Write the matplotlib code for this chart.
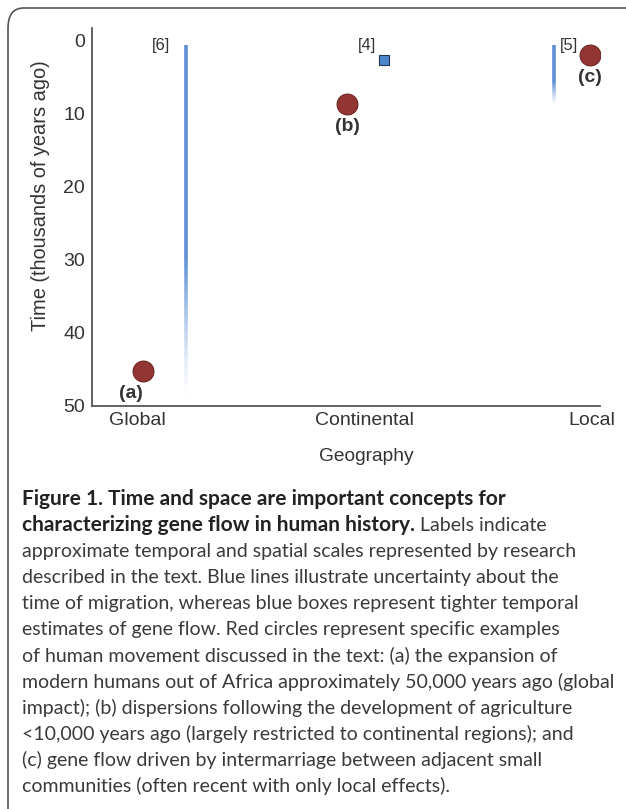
import matplotlib
matplotlib.use("Agg")
import matplotlib.pyplot as plt
import numpy as np
from matplotlib.collections import LineCollection
from matplotlib.patches import FancyBboxPatch

# ---- data ----
categories = ["Global", "Continental", "Local"]
y_ticks = [0, 10, 20, 30, 40, 50]

# uncertainty lines (x position in category units, start, end in kya)
line_x = [0.216, 1.833]
line_start = [0.7, 0.7]
line_end = [49.0, 9.0]
line_refs = ["[6]", "[5]"]

# tighter estimate boxes
box_x = [1.084]
box_y = [2.7]
box_refs = ["[4]"]

# specific examples
circle_x = [0.026, 0.925, 1.99]
circle_y = [45.2, 8.7, 2.0]
circle_labels = ["(a)", "(b)", "(c)"]

caption_bold1 = "Figure 1. Time and space are important concepts for"
caption_bold2 = "characterizing gene flow in human history."
caption_rest2 = " Labels indicate"
caption_lines = [
    "approximate temporal and spatial scales represented by research",
    "described in the text. Blue lines illustrate uncertainty about the",
    "time of migration, whereas blue boxes represent tighter temporal",
    "estimates of gene flow. Red circles represent specific examples",
    "of human movement discussed in the text: (a) the expansion of",
    "modern humans out of Africa approximately 50,000 years ago (global",
    "impact); (b) dispersions following the development of agriculture",
    "<10,000 years ago (largely restricted to continental regions); and",
    "(c) gene flow driven by intermarriage between adjacent small",
    "communities (often recent with only local effects).",
]

W, H = 626, 809
fig = plt.figure(figsize=(W / 100, H / 100), dpi=100)
fig.patch.set_facecolor("white")
renderer = fig.canvas.get_renderer()

def fx(px):
    return px / W

def fy(py):
    return 1 - py / H

def fit_size(text, target_px, family, weight="normal"):
    p = fig.text(0, 0, text, fontsize=12, family=family, fontweight=weight)
    w = p.get_window_extent(renderer).width
    p.remove()
    return 12 * target_px / w

# border
border = FancyBboxPatch((fx(8), fy(840)), fx(660) - fx(8), fy(8) - fy(840),
                        boxstyle="round,pad=0,rounding_size=0.025",
                        transform=fig.transFigure, facecolor="none",
                        edgecolor="#555555", linewidth=1.2, clip_on=False)
fig.patches.append(border)

plot_font = "Liberation Sans"
txt = "#333333"

ax = fig.add_axes([fx(92), fy(406), fx(600) - fx(92), fy(28) - fy(406)])
ax.set_xlim(-0.198, 2.035)
ax.set_ylim(50, -1.64)
for s in ["top", "right"]:
    ax.spines[s].set_visible(False)
for s in ["left", "bottom"]:
    ax.spines[s].set_color("#555555")
    ax.spines[s].set_linewidth(1.3)
ax.set_yticks(y_ticks)
ax.set_yticklabels([str(v) for v in y_ticks], fontsize=14, family=plot_font, color=txt)
ax.set_xticks(range(len(categories)))
ax.set_xticklabels(categories, fontsize=14, family=plot_font, color=txt)
ax.tick_params(axis="both", length=0)
ax.tick_params(axis="y", pad=5)
ax.tick_params(axis="x", pad=4)

xl_size = fit_size("Geography", 95, plot_font)
yl_size = fit_size("Time (thousands of years ago)", 272, plot_font)
ax.set_xlabel("Geography", fontsize=xl_size, family=plot_font, color=txt)
ax.xaxis.set_label_coords((366 - 92) / 508, -(448 - 406) / 378)
ax.xaxis.label.set_verticalalignment("top")
ax.set_ylabel("Time (thousands of years ago)", fontsize=yl_size, family=plot_font,
              color=txt)
ax.yaxis.set_label_coords((50 - 92) / 508, 1 - (196 - 28) / 378)

# gradient lines
blue = np.array([0.36, 0.56, 0.84])
ref_dx = [-0.07, 0.025]
ref_ha = ["right", "left"]
for x, y0, y1, ref, dx, ha in zip(line_x, line_start, line_end, line_refs, ref_dx, ref_ha):
    n = 200
    ys = np.linspace(y0, y1, n + 1)
    segs = [[(x, ys[i]), (x, ys[i + 1])] for i in range(n)]
    t = np.linspace(0, 1, n)
    alpha = np.clip((1 - t) / 0.4, 0, 1) ** 1.3
    cols = [(*blue, a) for a in alpha]
    lc = LineCollection(segs, colors=cols, linewidths=2.6, capstyle="butt")
    ax.add_collection(lc)
    ax.text(x + dx, y0 + 0.1, ref, ha=ha, va="center", fontsize=12,
            family=plot_font, color=txt)

for x, y, ref in zip(box_x, box_y, box_refs):
    ax.plot([x], [y], marker="s", markersize=7, markerfacecolor="#4d87cc",
            markeredgecolor="#1f3552", markeredgewidth=0.8, linestyle="none")
    ax.text(x - 0.035, y - 1.9, ref, ha="right", va="center", fontsize=12,
            family=plot_font, color=txt)

lab_dx = [-0.055, 0.0, 0.0]
for x, y, lab, dx in zip(circle_x, circle_y, circle_labels, lab_dx):
    ax.plot([x], [y], marker="o", markersize=15, markerfacecolor="#933533",
            markeredgecolor="#6e2422", markeredgewidth=0.8, linestyle="none")
    ax.text(x + dx, y + 3.1, lab, ha="center", va="center", fontsize=14,
            family=plot_font, color="#333333", fontweight="bold")

# caption
cap_font = "Lato"
cap_col = "#3a3a3a"
x0 = fx(22)
base0 = 505
step = 26.1

cap_size = fit_size(caption_lines[5], 590, cap_font)
bold_size = min(fit_size(caption_bold1, 481, cap_font, "bold"), cap_size * 1.08)

t1 = fig.text(x0, fy(base0), caption_bold1, fontsize=bold_size, family=cap_font,
              fontweight="bold", color="#222222", va="baseline")
t2 = fig.text(x0, fy(base0 + step), caption_bold2, fontsize=bold_size, family=cap_font,
              fontweight="bold", color="#222222", va="baseline")
fig.canvas.draw()
bb = t2.get_window_extent(renderer)
fig.text(bb.x1 / (W), fy(base0 + step), caption_rest2, fontsize=cap_size,
         family=cap_font, color=cap_col, va="baseline")
for i, line in enumerate(caption_lines):
    fig.text(x0, fy(base0 + step * (i + 2)), line, fontsize=cap_size,
             family=cap_font, color=cap_col, va="baseline")

fig.savefig("out.png", dpi=100, facecolor="white")
